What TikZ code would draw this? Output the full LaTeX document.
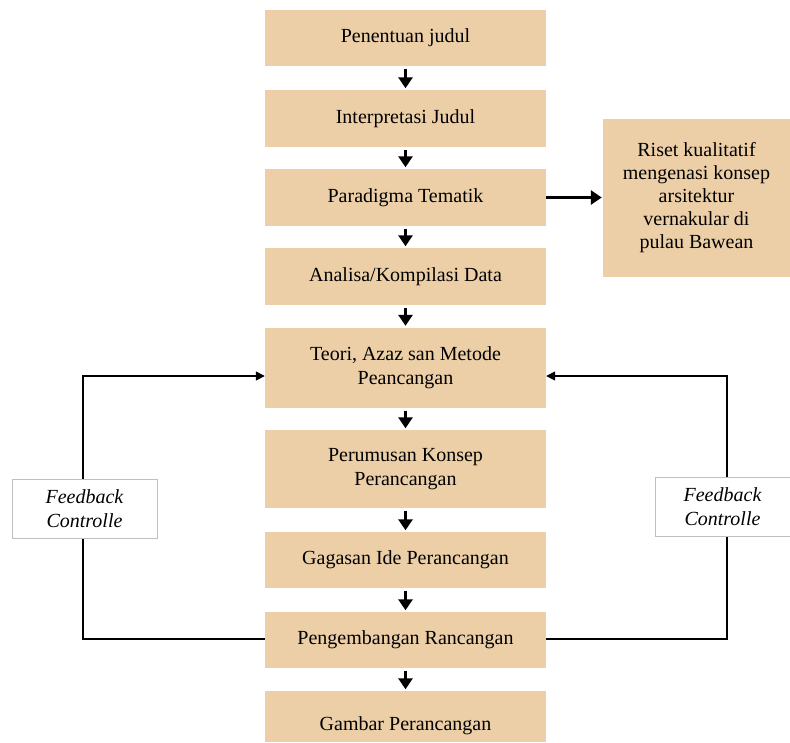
\documentclass[tikz,border=0pt]{standalone}
\usepackage{fontspec}
\setmainfont{Liberation Serif}
\usetikzlibrary{arrows.meta}
\definecolor{tan}{HTML}{ECCFA7}
\definecolor{fbgray}{HTML}{BFBFBF}
\tikzset{
  stepbox/.style={fill=tan, draw=none, minimum width=281pt, inner sep=0pt, align=center,
    font=\fontsize{20}{24}\selectfont},
  sidebox/.style={fill=tan, draw=none, inner sep=0pt, align=center,
    font=\fontsize{20}{23}\selectfont},
  fbbox/.style={fill=white, draw=fbgray, line width=1pt, inner sep=0pt, align=center,
    font=\fontsize{20}{24}\selectfont\itshape},
  flow/.style={line width=3.5pt, -{Triangle[width=14pt,length=11pt]}, shorten <=3pt, shorten >=1.5pt},
  fb/.style={line width=1.6pt, -{Triangle[width=9pt,length=9pt]}},
}
\begin{document}
\begin{tikzpicture}[x=1pt,y=-1pt]
\useasboundingbox (0,0) rectangle (790,742);
\node[stepbox, minimum height=56pt] (b1) at (405.5,38) {Penentuan judul};
\node[stepbox, minimum height=57pt] (b2) at (405.5,118.5) {Interpretasi Judul};
\node[stepbox, minimum height=57pt] (b3) at (405.5,197.5) {Paradigma Tematik};
\node[stepbox, minimum height=57pt] (b4) at (405.5,276.5) {Analisa/Kompilasi Data};
\node[stepbox, minimum height=80pt] (b5) at (405.5,367.5) {Teori, Azaz san Metode\\Peancangan};
\node[stepbox, minimum height=78pt] (b6) at (405.5,469) {Perumusan Konsep\\Perancangan};
\node[stepbox, minimum height=56pt] (b7) at (405.5,560) {Gagasan Ide Perancangan};
\node[stepbox, minimum height=56pt] (b8) at (405.5,640) {Pengembangan Rancangan};
\node[stepbox, minimum height=51pt] (b9) at (405.5,716.5) {\raisebox{-7pt}[14pt][0pt]{Gambar Perancangan}};
\node[sidebox, minimum width=187pt, minimum height=158pt] (r) at (696.5,198) {Riset kualitatif\\mengenasi konsep\\arsitektur\\vernakular di\\pulau Bawean};
\node[fbbox, minimum width=145pt, minimum height=59pt] (fl) at (84.5,508.5) {Feedback\\Controlle};
\node[fbbox, minimum width=135pt, minimum height=59pt] (fr) at (722.5,506.5) {Feedback\\Controlle};
\draw[flow] (b1) -- (b2);
\draw[flow] (b2) -- (b3);
\draw[flow] (b3) -- (b4);
\draw[flow] (b4) -- (b5);
\draw[flow] (b5) -- (b6);
\draw[flow] (b6) -- (b7);
\draw[flow] (b7) -- (b8);
\draw[flow] (b8) -- (b9);
\draw[line width=3.5pt, -{Triangle[width=14pt,length=11pt]}, shorten >=1pt] (b3.east) -- (r.west |- b3.east);
\coordinate (lb) at (83,639);
\coordinate (lt) at (83,376);
\coordinate (rb) at (727,639);
\coordinate (rt) at (727,376);
\draw[line width=1.6pt] (b8.west |- lb) -- (lb) -- (lb |- fl.south);
\draw[fb] (lt |- fl.north) -- (lt) -- (b5.west |- lt);
\draw[line width=1.6pt] (b8.east |- rb) -- (rb) -- (rb |- fr.south);
\draw[fb] (rt |- fr.north) -- (rt) -- (b5.east |- rt);
\end{tikzpicture}
\end{document}
